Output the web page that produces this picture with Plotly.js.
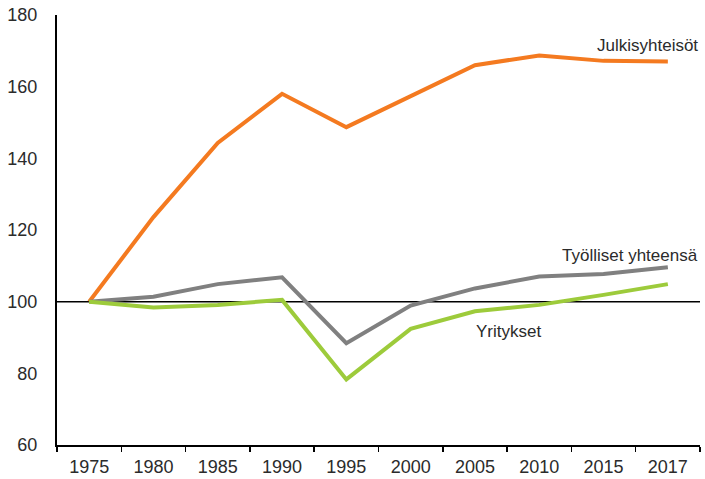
<!DOCTYPE html>
<html>
<head>
<meta charset="utf-8">
<script src="https://cdn.plot.ly/plotly-3.0.1.min.js"></script>
<style>
  html, body { margin: 0; padding: 0; background: #fff; }
  #chart { width: 705px; height: 479px; }
</style>
</head>
<body>
<div id="chart"></div>
<script>
const years = ["1975", "1980", "1985", "1990", "1995", "2000", "2005", "2010", "2015", "2017"];
const julkisyhteisot = [100, 123.6, 144.3, 158.0, 148.7, 157.3, 166.0, 168.7, 167.2, 167.0];
const tyolliset = [100, 101.4, 104.9, 106.8, 88.4, 98.9, 103.7, 107.0, 107.7, 109.6];
const yritykset = [100, 98.4, 99.1, 100.5, 78.3, 92.4, 97.3, 99.1, 101.9, 104.9];
const baseline = 100;

const font = "Liberation Sans, Arial, sans-serif";
const textColor = "#2b2b2b";

const line = (y, name, color) => ({
    x: years,
    y: y,
    name: name,
    mode: "lines",
    type: "scatter",
    line: { color: color, width: 4 },
    hoverinfo: "skip"
});

Plotly.newPlot("chart", [
    line(julkisyhteisot, "Julkisyhteisöt", "#f47a20"),
    line(tyolliset, "Työlliset yhteensä", "#808080"),
    line(yritykset, "Yritykset", "#9dcb3b")
], {
    width: 705,
    height: 479,
    margin: { l: 57, r: 5, t: 15, b: 34 },
    showlegend: false,
    paper_bgcolor: "#fff",
    plot_bgcolor: "#fff",
    font: { family: font, size: 18, color: textColor },
    xaxis: {
        type: "category",
        range: [-0.5, 9.5],
        tickson: "boundaries",
        ticks: "outside",
        ticklen: 5,
        tickwidth: 1.5,
        tickcolor: "#000",
        ticklabelstandoff: 4,
        showline: true,
        linecolor: "#000",
        linewidth: 2,
        showgrid: false,
        zeroline: false,
        fixedrange: true
    },
    yaxis: {
        range: [60, 180],
        dtick: 20,
        ticks: "",
        ticklabelstandoff: 14,
        showline: true,
        linecolor: "#000",
        linewidth: 2,
        showgrid: false,
        zeroline: false,
        fixedrange: true
    },
    shapes: [{
        type: "line",
        xref: "paper", yref: "y",
        x0: 0, x1: 1, y0: baseline, y1: baseline,
        line: { color: "#000", width: 1.5 },
        layer: "below"
    }],
    annotations: [
        { text: "Julkisyhteisöt", xref: "paper", yref: "y", x: 1, y: 171.5, xanchor: "right", yanchor: "middle", showarrow: false, font: { size: 17 } },
        { text: "Työlliset yhteensä", xref: "paper", yref: "y", x: 1, y: 112.9, xanchor: "right", yanchor: "middle", showarrow: false, font: { size: 17 } },
        { text: "Yritykset", xref: "paper", yref: "y", x: 0.648, y: 91.7, xanchor: "left", yanchor: "middle", showarrow: false, font: { size: 17 } }
    ]
}, { displayModeBar: false, staticPlot: true });
</script>
</body>
</html>
